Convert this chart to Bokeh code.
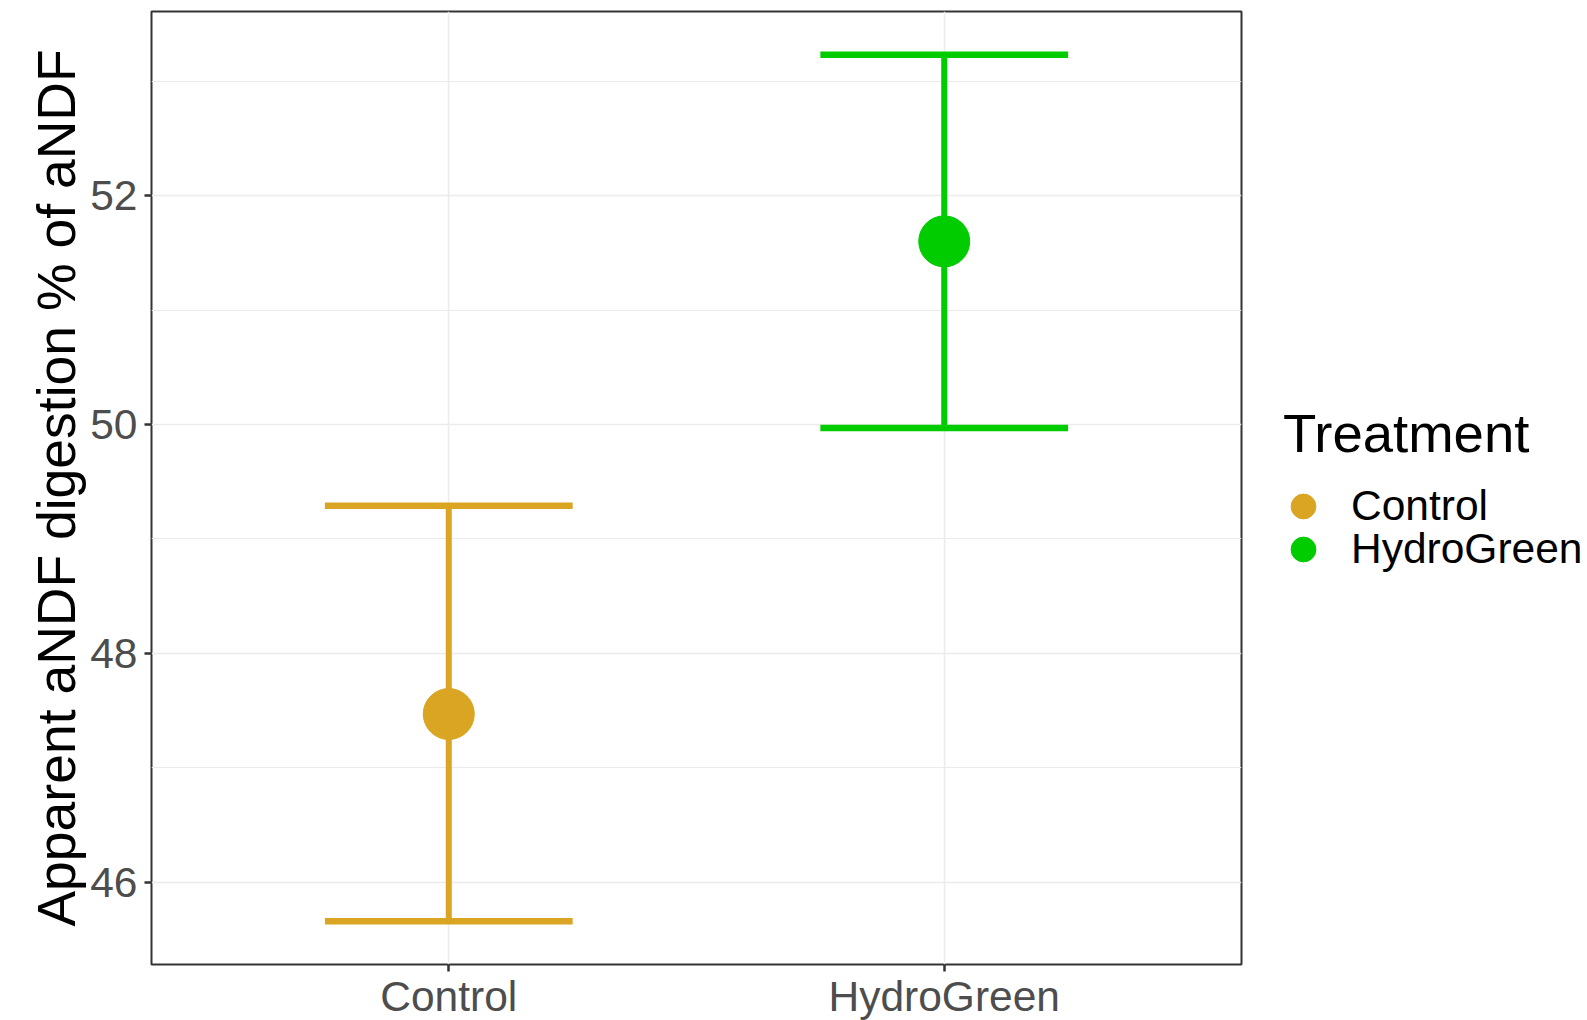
import numpy as np
from bokeh.plotting import figure
from bokeh.layouts import row
from bokeh.models import (FactorRange, Range1d, Legend, LegendItem, FixedTicker,
                          ColumnDataSource)
from bokeh.transform import dodge
from bokeh.embed import file_html
from bokeh.resources import INLINE

treatments = ["Control", "HydroGreen"]
means = [47.47, 51.60]
upper = [49.29, 53.23]
lower = [45.66, 49.97]
colors = ["#D9A522", "#00CC00"]
y_ticks = [46, 48, 50, 52]
y_minor = [47, 49, 51, 53]
legend_title = "Treatment"

lo, hi = min(lower), max(upper)
pad = 0.05 * (hi - lo)

FONT = "Liberation Sans"

p = figure(
    width=1243, height=1020,
    x_range=FactorRange(*treatments, range_padding=0.1, range_padding_units="absolute"),
    y_range=Range1d(lo - pad, hi + pad),
    output_backend="svg", toolbar_location=None,
    min_border_left=151, min_border_right=2, min_border_top=11, min_border_bottom=56,
)
p.frame_width = 1090
p.frame_height = 953

src = ColumnDataSource(dict(t=treatments, m=means, up=upper, lo=lower, c=colors))

# grid
p.xgrid.grid_line_color = "#EBEBEB"
p.xgrid.grid_line_width = 1.5
p.ygrid.ticker = FixedTicker(ticks=y_ticks, minor_ticks=y_minor)
p.ygrid.grid_line_color = "#EBEBEB"
p.ygrid.grid_line_width = 1.5
p.ygrid.minor_grid_line_color = "#EBEBEB"
p.ygrid.minor_grid_line_width = 1.0

p.outline_line_color = "#333333"
p.outline_line_width = 2

# axes
p.yaxis.ticker = FixedTicker(ticks=y_ticks)
for ax in (p.xaxis[0], p.yaxis[0]):
    ax.axis_line_color = None
    ax.major_tick_line_color = "#333333"
    ax.major_tick_line_width = 2.5
    ax.major_tick_out = 7
    ax.major_tick_in = 0
    ax.minor_tick_line_color = None
    ax.major_label_text_font = FONT
    ax.major_label_text_font_size = "42.5px"
    ax.major_label_text_color = "#4D4D4D"

p.yaxis.axis_label = "Apparent aNDF digestion % of aNDF"
p.yaxis.axis_label_text_font = FONT
p.yaxis.axis_label_text_font_size = "53.5px"
p.yaxis.axis_label_text_font_style = "normal"
p.yaxis.axis_label_text_color = "black"
p.yaxis.axis_label_standoff = 1
p.yaxis.major_label_standoff = 7
p.xaxis.major_label_standoff = 1

# error bars
p.segment(x0="t", y0="lo", x1="t", y1="up", source=src, line_color="c", line_width=6)
p.segment(x0=dodge("t", -0.25, range=p.x_range), y0="up",
          x1=dodge("t", 0.25, range=p.x_range), y1="up",
          source=src, line_color="c", line_width=6.5)
p.segment(x0=dodge("t", -0.25, range=p.x_range), y0="lo",
          x1=dodge("t", 0.25, range=p.x_range), y1="lo",
          source=src, line_color="c", line_width=6.5)
p.scatter(x="t", y="m", source=src, size=51, fill_color="c", line_color="c", line_width=1)

# ---- legend area: a bare figure to the right of the panel ----
lg = figure(width=344, height=1020, x_range=Range1d(0, 1), y_range=Range1d(0, 1),
            output_backend="svg", toolbar_location=None,
            x_axis_location=None, y_axis_location=None, min_border=0)
lg.grid.visible = False
lg.outline_line_color = None

common = dict(border_line_color=None, background_fill_alpha=0, padding=0, margin=0,
              label_text_font=FONT, label_text_color="black")

leg_title = Legend(items=[LegendItem(label=legend_title, renderers=[])],
                   label_text_font_size="54.5px", glyph_width=0, glyph_height=70,
                   label_height=0, label_standoff=0, location=(40, 494), **common)
lg.add_layout(leg_title, "center")

for t, col, yloc in zip(treatments, colors, [425, 382]):
    key = lg.scatter(x=[np.nan], y=[np.nan], color=col)
    leg = Legend(items=[LegendItem(label=t, renderers=[key])],
                 label_text_font_size="42.5px",
                 glyph_width=62, glyph_height=62, label_height=62,
                 label_standoff=17, location=(29, yloc), **common)
    lg.add_layout(leg, "center")

layout = row(p, lg, spacing=0)
open("out.html", "w").write(file_html(layout, INLINE))
